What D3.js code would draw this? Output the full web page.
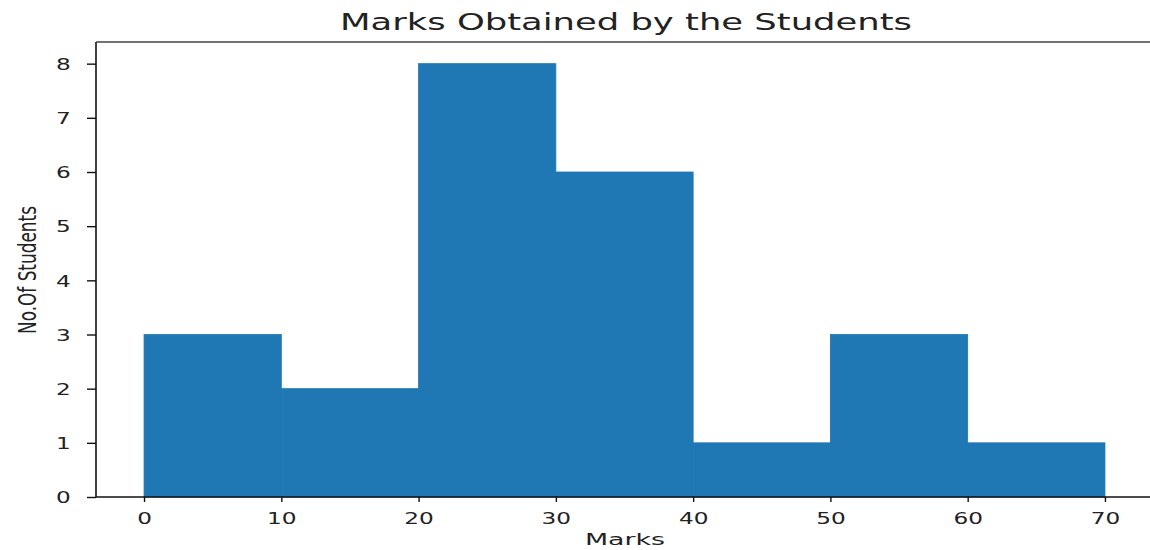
<!DOCTYPE html>
<html>
<head>
<meta charset="utf-8">
<script src="https://cdn.jsdelivr.net/npm/d3@7"></script>
<style>
  html, body { margin: 0; padding: 0; background: #fff; }
  svg { display: block; }
  text { font-family: "DejaVu Sans", sans-serif; fill: #222; }
</style>
</head>
<body>
<svg id="chart" width="1150" height="550"></svg>
<script>
// Data
const binStarts = [0, 10, 20, 30, 40, 50, 60];
const binWidth = 10;
const counts = [3, 2, 8, 6, 1, 3, 1];
const xTicks = [0, 10, 20, 30, 40, 50, 60, 70];
const yTicks = [0, 1, 2, 3, 4, 5, 6, 7, 8];
const chartTitle = "Marks Obtained by the Students";
const xLabel = "Marks";
const yLabel = "No.Of Students";

const svg = d3.select("#chart");
const mLeft = 96, mRight = 1153, mTop = 42, mBottom = 497;
const SX = 1.45; // horizontal stretch of the reference image

const x = d3.scaleLinear().domain([-3.5, 73.5]).range([mLeft, mRight]);
const y = d3.scaleLinear().domain([0, 8.4]).range([mBottom, mTop]);

// Bars
svg.append("g").selectAll("rect")
  .data(binStarts.map((s, i) => ({ s, c: counts[i] })))
  .join("rect")
  .attr("x", d => x(d.s))
  .attr("width", d => x(d.s + binWidth) - x(d.s))
  .attr("y", d => y(d.c))
  .attr("height", d => y(0) - y(d.c))
  .attr("fill", "#1f77b4")
  .attr("stroke", "#1f77b4")
  .attr("stroke-width", 0.8);

// Spines (left, top, bottom)
const spine = svg.append("g").attr("stroke", "#111").attr("stroke-width", 1.6);
spine.append("line").attr("x1", mLeft).attr("x2", mLeft).attr("y1", mTop).attr("y2", mBottom);
spine.append("line").attr("x1", mLeft).attr("x2", 1150).attr("y1", mTop).attr("y2", mTop).attr("stroke", "#444");
spine.append("line").attr("x1", mLeft).attr("x2", 1150).attr("y1", mBottom).attr("y2", mBottom);

// X axis
const xAxis = svg.append("g").attr("transform", `translate(0,${mBottom})`)
  .call(d3.axisBottom(x).tickValues(xTicks).tickSize(5).tickSizeOuter(0).tickFormat(d3.format("d")));
xAxis.select(".domain").remove();
xAxis.selectAll(".tick line").attr("stroke", "#111").attr("stroke-width", 1.4);
xAxis.selectAll(".tick text")
  .attr("y", 0).attr("dy", 0)
  .attr("transform", `translate(0,27) scale(${SX},1)`)
  .style("font-size", "16px").style("fill", "#222");

// Y axis
const yAxis = svg.append("g").attr("transform", `translate(${mLeft},0)`)
  .call(d3.axisLeft(y).tickValues(yTicks).tickSize(9).tickSizeOuter(0).tickFormat(d3.format("d")));
yAxis.select(".domain").remove();
yAxis.selectAll(".tick line").attr("stroke", "#111").attr("stroke-width", 1.4);
yAxis.selectAll(".tick text")
  .attr("x", -17.5).attr("dy", "0.36em")
  .attr("transform", `scale(${SX},1)`)
  .style("font-size", "16px").style("fill", "#222");

// Title
svg.append("text")
  .attr("x", 340).attr("y", 30)
  .attr("textLength", 572).attr("lengthAdjust", "spacingAndGlyphs")
  .style("font-size", "23px")
  .text(chartTitle);

// X label
svg.append("text")
  .attr("x", 585).attr("y", 545)
  .attr("textLength", 80).attr("lengthAdjust", "spacingAndGlyphs")
  .style("font-size", "16px")
  .text(xLabel);

// Y label
svg.append("text")
  .attr("transform", `translate(36,270) scale(1.3,1) rotate(-90)`)
  .attr("text-anchor", "middle")
  .attr("textLength", 128).attr("lengthAdjust", "spacingAndGlyphs")
  .style("font-size", "19px")
  .style("font-family", "'Liberation Sans Narrow', 'DejaVu Sans Condensed', 'Liberation Sans', sans-serif")
  .text(yLabel);
</script>
</body>
</html>
